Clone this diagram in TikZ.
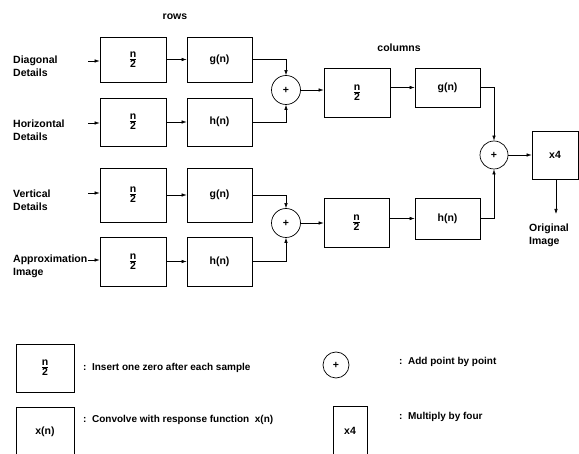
\documentclass[tikz,border=0pt]{standalone}
\usepackage{amsmath}
\usepackage{fontspec}
\setmainfont{Liberation Sans}
\usetikzlibrary{arrows.meta}
\newcommand{\halfn}{$\genfrac{}{}{0.6pt}{1}{\mbox{\bfseries n}}{\mbox{\bfseries 2}}$}
\begin{document}
\begin{tikzpicture}[x=1pt,y=-1pt,
  blk/.style={draw,line width=0.7pt,inner sep=0pt,font=\fontsize{10.5}{11}\bfseries},
  sum/.style={draw,circle,line width=0.7pt,minimum size=29pt,inner sep=0pt,font=\fontsize{10.5}{11}\bfseries},
  arr/.style={line width=0.6pt,-{Latex[length=5pt,width=3.5pt]}},
  lbl/.style={anchor=west,align=left,inner sep=0pt,font=\fontsize{10.5}{13}\bfseries},
  leg/.style={anchor=west,inner sep=0pt,font=\fontsize{10}{11}\bfseries}]
\useasboundingbox (0,0) rectangle (579,454);
% titles
\node[inner sep=0pt,font=\fontsize{10.5}{11}\bfseries] (rows) at (175,17) {rows};
\node[inner sep=0pt,font=\fontsize{10.5}{11}\bfseries] (cols) at (399,48) {columns};
% row stage
\node[blk,minimum width=66pt,minimum height=45pt] (n1) at (133,59.5) {\halfn};
\node[blk,minimum width=65pt,minimum height=45pt] (g1) at (219.5,59.5) {g(n)};
\node[blk,minimum width=66pt,minimum height=48pt] (n2) at (133,122) {\halfn};
\node[blk,minimum width=65pt,minimum height=48pt] (h2) at (219.5,122) {h(n)};
\node[blk,minimum width=66pt,minimum height=54pt] (n3) at (133,195) {\halfn};
\node[blk,minimum width=65pt,minimum height=54pt] (g3) at (219.5,195) {g(n)};
\node[blk,minimum width=66pt,minimum height=49pt] (n4) at (133,261.5) {\halfn};
\node[blk,minimum width=65pt,minimum height=49pt] (h4) at (219.5,261.5) {h(n)};
\node[sum] (c1) at (286,90) {+};
\node[sum] (c2) at (286,223) {+};
% column stage
\node[blk,minimum width=66pt,minimum height=49pt] (cn1) at (357,92.5) {\halfn};
\node[blk,minimum width=65pt,minimum height=39pt] (cg1) at (447.5,87.5) {g(n)};
\node[blk,minimum width=65pt,minimum height=49pt] (cn2) at (356.5,222.5) {\halfn};
\node[blk,minimum width=65pt,minimum height=41pt] (ch2) at (447.5,218.5) {h(n)};
\node[sum,minimum size=28pt] (c3) at (494,155) {+};
\node[blk,minimum width=46pt,minimum height=48pt] (x4) at (555,155) {x4};
% labels
\node[lbl] (l1) at (13,66) {Diagonal\\Details};
\node[lbl] (l2) at (13,130) {Horizontal\\Details};
\node[lbl] (l3) at (13,200) {Vertical\\Details};
\node[lbl] (l4) at (13,266) {Approximation\\Image};
\node[lbl] (lo) at (529,235) {Original\\Image};
\coordinate (i1) at (88,61);
\coordinate (i2) at (88,123);
\coordinate (i3) at (88,193);
\coordinate (i4) at (88,260);
\coordinate (o1) at (556,214);
% connectors
\draw[arr] (i1) -- (i1 -| n1.west);
\draw[arr] (i2) -- (i2 -| n2.west);
\draw[arr] (i3) -- (i3 -| n3.west);
\draw[arr] (i4) -- (i4 -| n4.west);
\draw[arr] (n1.east) -- (g1.west);
\draw[arr] (n2.east) -- (h2.west);
\draw[arr] (n3.east) -- (g3.west);
\draw[arr] (n4.east) -- (h4.west);
\draw[arr] (g1.east) -| (c1.north);
\draw[arr] (h2.east) -| (c1.south);
\draw[arr] (g3.east) -| (c2.north);
\draw[arr] (h4.east) -| (c2.south);
\draw[arr] (c1.east) -- (c1.east -| cn1.west);
\draw[arr] (c2.east) -- (c2.east -| cn2.west);
\draw[arr] (cg1.west -| cn1.east) -- (cg1.west);
\draw[arr] (ch2.west -| cn2.east) -- (ch2.west);
\draw[arr] (cg1.east) -| (c3.north);
\draw[arr] (ch2.east) -| (c3.south);
\draw[arr] (c3.east) -- (x4.west);
\draw[arr] (x4.south -| o1) -- (o1);
% legend
\node[blk,minimum width=58pt,minimum height=48pt] (k1) at (45,368) {\halfn};
\node[leg] (t1) at (83,368) {:\ \ Insert one zero after each sample};
\node[blk,minimum width=58pt,minimum height=50pt] (k2) at (45,432) {x(n)};
\node[leg] (t2) at (83,420) {:\ \ Convolve with response function\ \ x(n)};
\node[sum,minimum size=26pt] (k3) at (336,365) {+};
\node[leg] (t3) at (399,362) {:\ \ Add point by point};
\node[blk,minimum width=34pt,minimum height=50pt] (k4) at (350,431) {x4};
\node[leg] (t4) at (399,417) {:\ \ Multiply by four};
\end{tikzpicture}
\end{document}
